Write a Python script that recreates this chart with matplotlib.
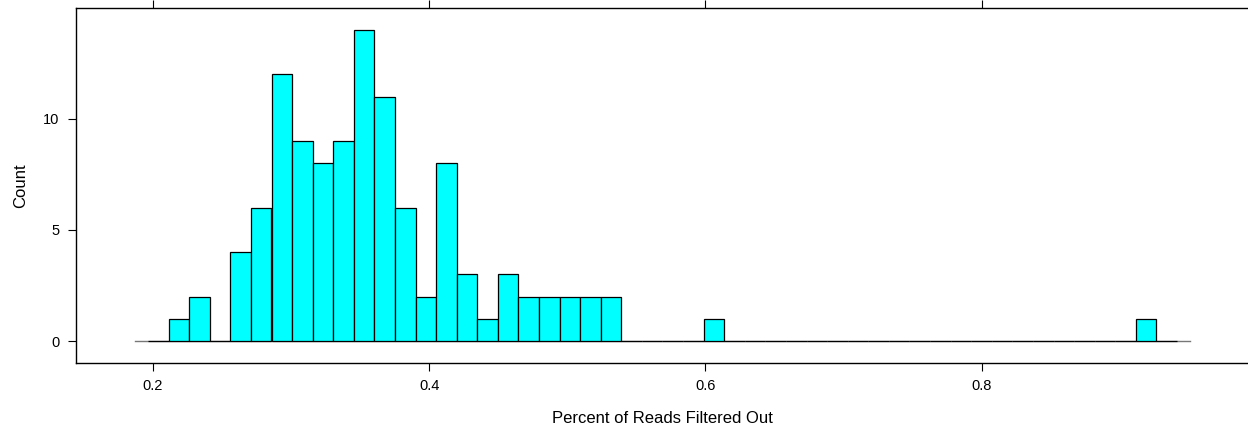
import numpy as np
import matplotlib
matplotlib.use("Agg")
import matplotlib.pyplot as plt

plt.rcParams["font.family"] = ["Liberation Sans", "DejaVu Sans"]

# histogram bins (lattice-style, equal width)
bin_start = 0.19647
bin_width = 0.0149
counts = [0, 1, 2, 0, 4, 6, 12, 9, 8, 9, 14, 11, 6, 2, 8, 3, 1, 3, 2, 2, 2, 2, 2,
          0, 0, 0, 0, 1, 0, 0, 0, 0, 0, 0, 0, 0, 0, 0, 0, 0, 0, 0, 0, 0, 0, 0, 0, 0,
          1, 0]
x_ticks = [0.2, 0.4, 0.6, 0.8]
y_ticks = [0, 5, 10]

edges = bin_start + bin_width * np.arange(len(counts) + 1)

W, H = 1248, 425
fig = plt.figure(figsize=(W / 100, H / 100), dpi=100)
ax = fig.add_axes([76 / W, (H - 363) / H, (1249 - 76) / W, 355 / H])

ax.plot([edges[0] - 0.0095, edges[-1] + 0.0095], [0, 0], color="#777777",
        linewidth=1, zorder=1)
ax.bar(edges[:-1], counts, width=bin_width, align="edge", color="#00FFFF",
       edgecolor="black", linewidth=0.9, zorder=2)

xr = edges[-1] - edges[0]
ax.set_xlim(edges[0] - 0.07 * xr, edges[-1] + 0.07 * xr)
ax.set_ylim(-0.07 * 14, 14 + 0.07 * 14)

ax.set_xticks(x_ticks)
ax.set_xticklabels([str(t) for t in x_ticks])
ax.set_yticks(y_ticks)
ax.tick_params(axis="both", direction="out", length=5.8, width=0.8,
               labelsize=10.5)
ax.tick_params(axis="x", top=True, labeltop=False, pad=6)
ax.tick_params(axis="y", right=False, pad=6)
for s in ax.spines.values():
    s.set_linewidth(1)

ax.set_xlabel("Percent of Reads Filtered Out", fontsize=12, labelpad=13)
ax.set_ylabel("Count", fontsize=12, labelpad=11)

fig.savefig("out.png", dpi=100)
